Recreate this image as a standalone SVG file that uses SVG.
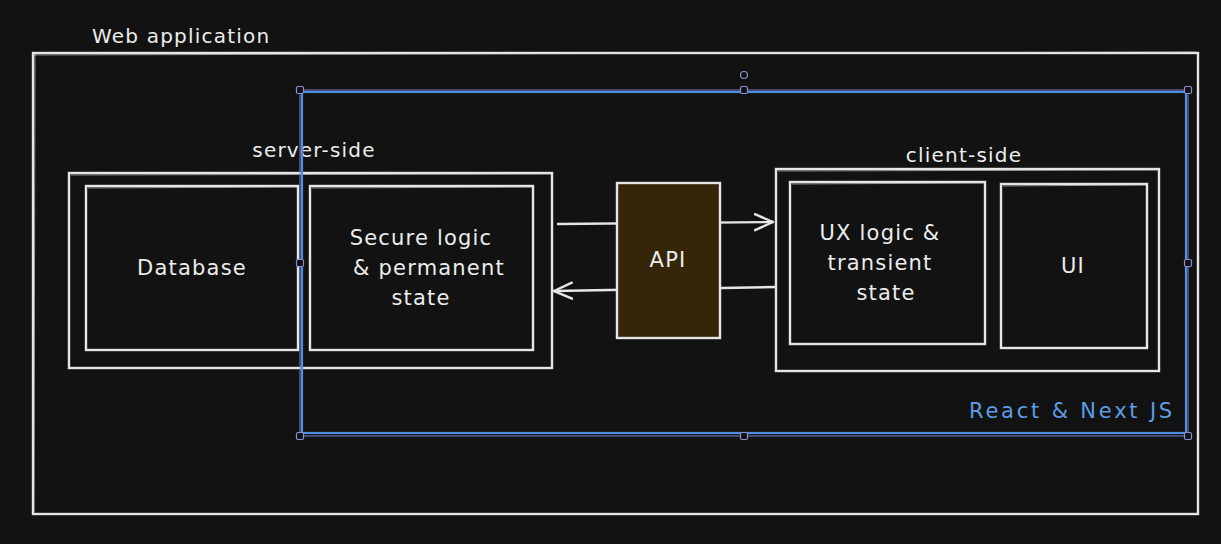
<svg xmlns="http://www.w3.org/2000/svg" width="1221" height="544" viewBox="0 0 1221 544">
<defs>
<style>
.box{fill:none;stroke:#e6e6e6;stroke-width:2.4}
.sk{fill:none;stroke:#d8d8d8;stroke-width:1;opacity:0.6}
.lbl{font-family:"DejaVu Sans","Liberation Sans",sans-serif;fill:#ececec;font-size:21px;letter-spacing:1.2px}
.mid{text-anchor:middle}
.blue{fill:none;stroke:#4a8fe0;stroke-width:2.2}
.sel{fill:none;stroke:#7b7fc8;stroke-width:1}
.handle{fill:#121212;stroke:#8a8fd0;stroke-width:1.2}
.con{fill:none;stroke:#e6e6e6;stroke-width:2.4;stroke-linecap:round}
</style>
<marker id="arr" viewBox="0 0 20 20" refX="19" refY="10" markerWidth="20" markerHeight="20" markerUnits="userSpaceOnUse" orient="auto">
<path d="M1,2 L19,10 L1,18" fill="none" stroke="#e6e6e6" stroke-width="2.4" stroke-linecap="round"/>
</marker>
</defs>
<rect width="1221" height="544" fill="#121212"/>

<g id="web-application">
<rect class="box" x="33" y="53" width="1165" height="461"/>
<path class="sk" d="M34,55 L1196,52 M35,54 L34,512"/>
<text class="lbl" x="92" y="43" style="font-size:20px">Web application</text>
</g>

<g id="server-side">
<rect class="box" x="69" y="173" width="483" height="195"/>
<path class="sk" d="M71,175 L551,174"/>
<text class="lbl mid" x="314" y="157" style="font-size:20px">server-side</text>
</g>

<g id="database">
<rect class="box" x="86" y="186" width="212" height="164"/>
<path class="sk" d="M88,188 L297,187"/>
<text class="lbl mid" x="192" y="275">Database</text>
</g>

<g id="secure-logic">
<rect class="box" x="310" y="186" width="223" height="164"/>
<path class="sk" d="M312,188 L532,187"/>
<text class="lbl mid" x="421" y="245">Secure logic</text>
<text class="lbl mid" x="429" y="275">&amp; permanent</text>
<text class="lbl mid" x="421" y="305">state</text>
</g>

<g id="connectors">
<path class="con" d="M558,224 L773,222" marker-end="url(#arr)"/>
<path class="con" d="M775,287 L554,291" marker-end="url(#arr)"/>
</g>

<g id="api">
<rect x="617" y="183" width="103" height="155" fill="#35260a" stroke="#e6e6e6" stroke-width="2.4"/>
<text class="lbl mid" x="668" y="267">API</text>
</g>

<g id="client-side">
<rect class="box" x="776" y="169" width="383" height="202"/>
<path class="sk" d="M778,171 L1158,170"/>
<text class="lbl mid" x="964" y="162" style="font-size:20px">client-side</text>
</g>

<g id="ux-logic">
<rect class="box" x="790" y="182" width="195" height="162"/>
<path class="sk" d="M792,184 L984,183"/>
<text class="lbl mid" x="880" y="240">UX logic &amp;</text>
<text class="lbl mid" x="880" y="270">transient</text>
<text class="lbl mid" x="886" y="300">state</text>
</g>

<g id="ui">
<rect class="box" x="1001" y="184" width="146" height="164"/>
<path class="sk" d="M1003,186 L1146,185"/>
<text class="lbl mid" x="1073" y="273">UI</text>
</g>

<g id="react-next">
<rect class="blue" x="302" y="92" width="884" height="341"/>
<text class="lbl" x="1175" y="418" text-anchor="end" style="fill:#5c9de6;letter-spacing:2.8px">React &amp; Next JS</text>
</g>

<g id="selection">
<rect class="sel" x="300" y="90" width="888" height="346"/>
<circle class="handle" cx="744" cy="75" r="3.5"/>
<rect class="handle" x="296.5" y="86.5" width="7" height="7" rx="1.5"/>
<rect class="handle" x="740.5" y="86.5" width="7" height="7" rx="1.5"/>
<rect class="handle" x="1184.5" y="86.5" width="7" height="7" rx="1.5"/>
<rect class="handle" x="296.5" y="259.5" width="7" height="7" rx="1.5"/>
<rect class="handle" x="1184.5" y="259.5" width="7" height="7" rx="1.5"/>
<rect class="handle" x="296.5" y="432.5" width="7" height="7" rx="1.5"/>
<rect class="handle" x="740.5" y="432.5" width="7" height="7" rx="1.5"/>
<rect class="handle" x="1184.5" y="432.5" width="7" height="7" rx="1.5"/>
</g>
</svg>
